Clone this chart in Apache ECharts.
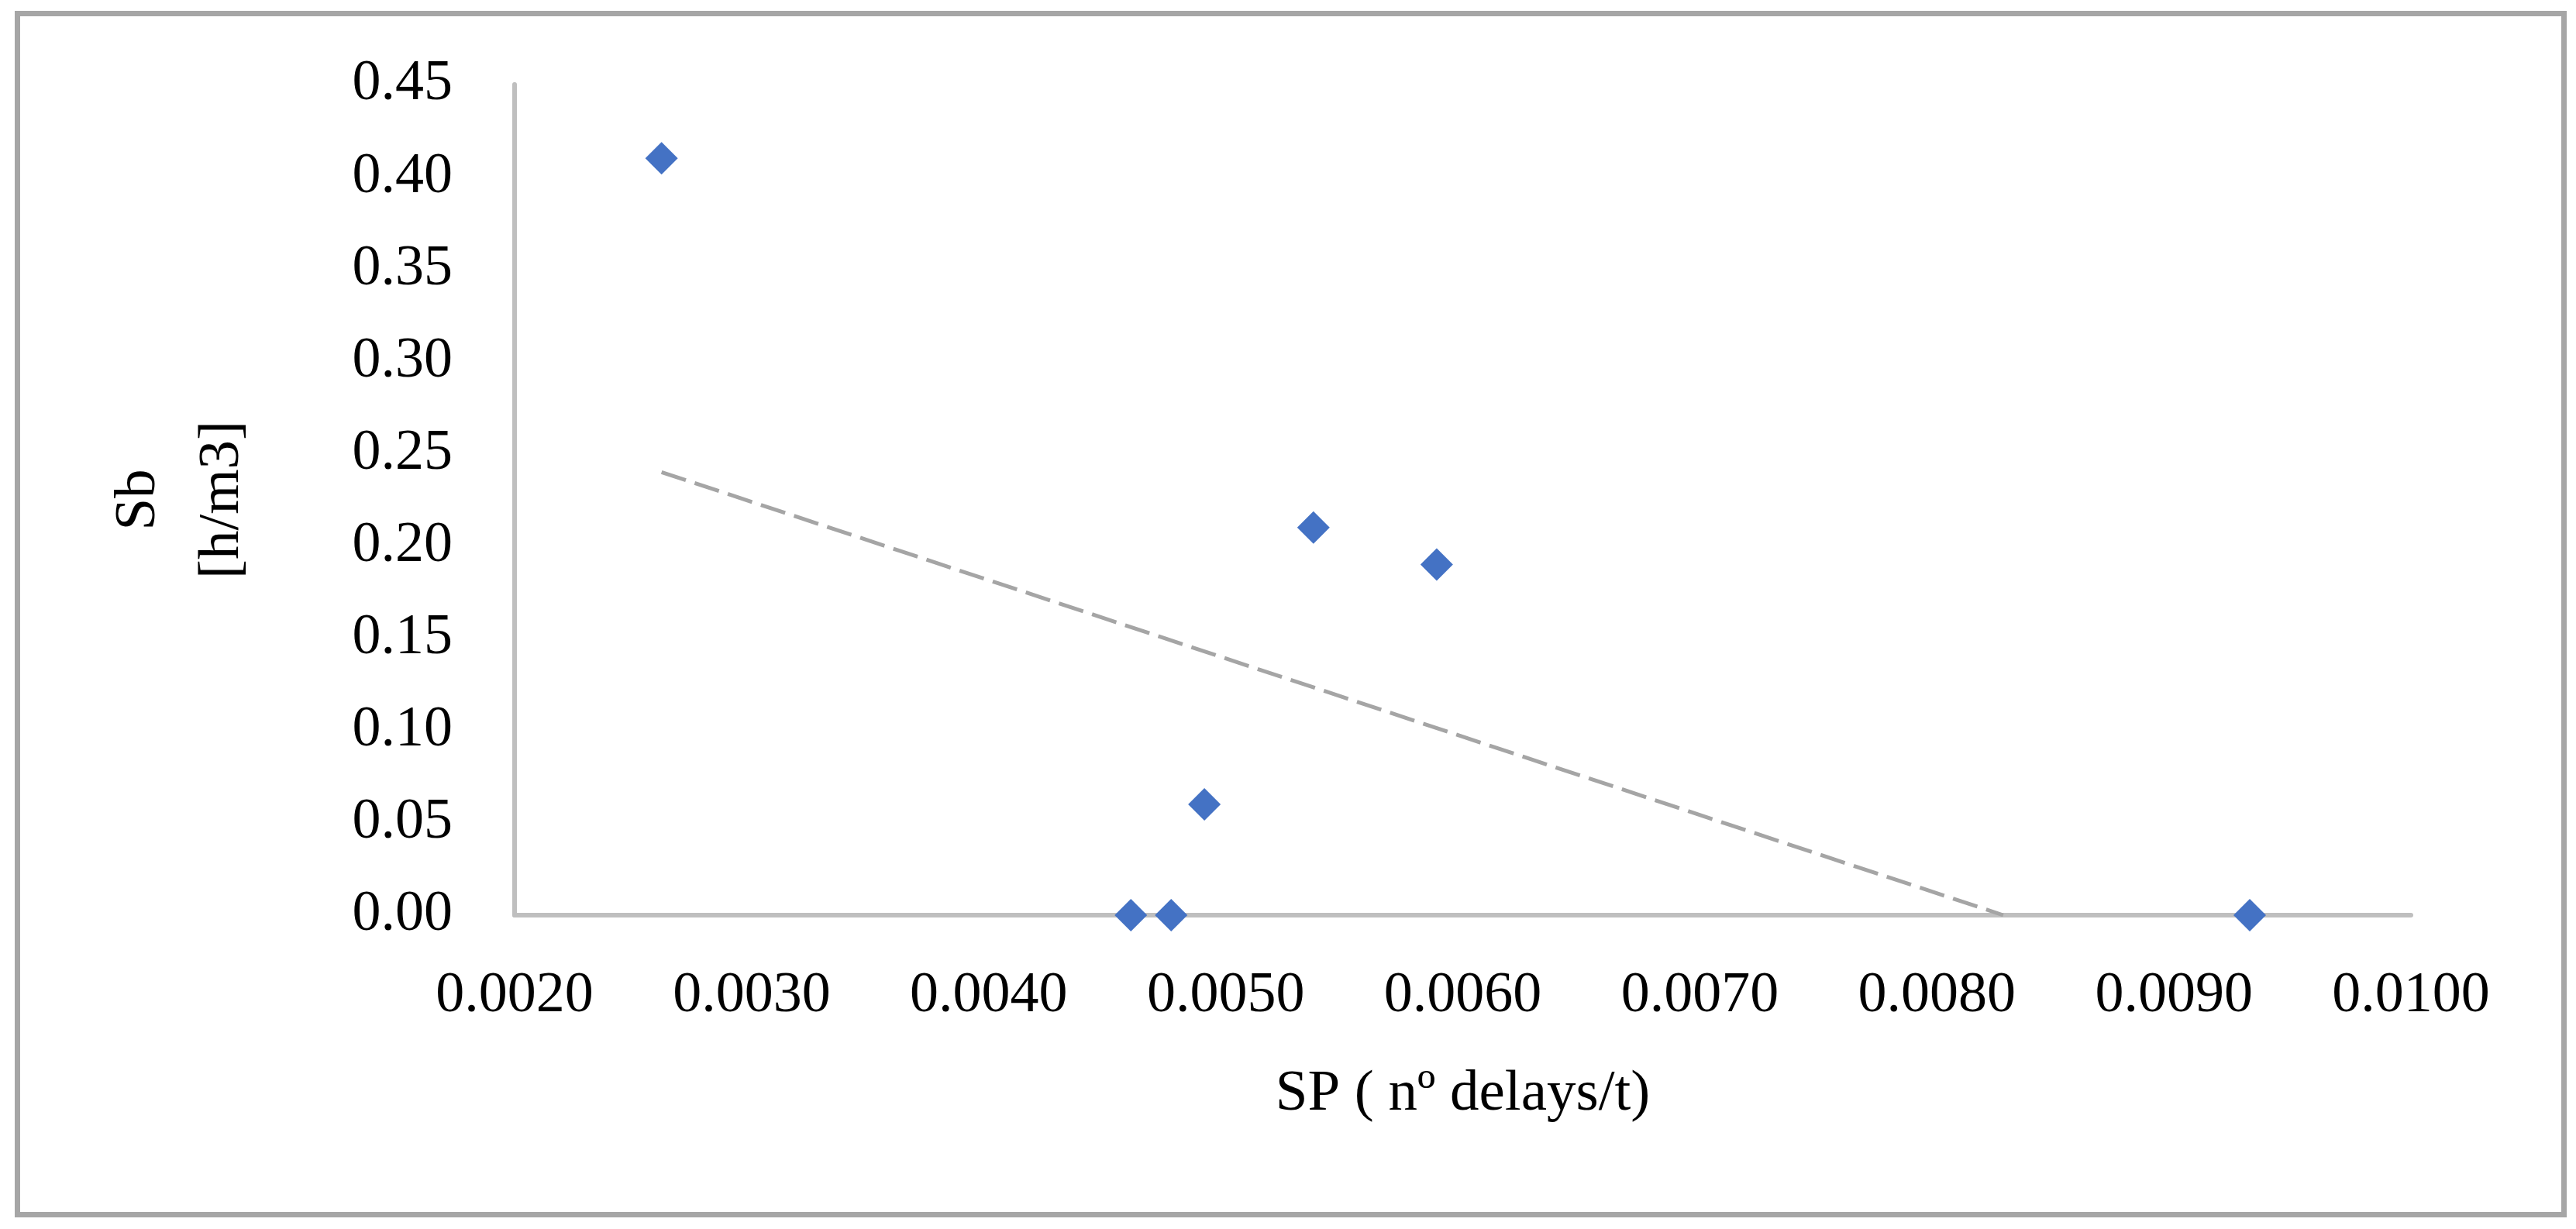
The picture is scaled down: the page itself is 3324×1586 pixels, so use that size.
<!DOCTYPE html>
<html>
<head>
<meta charset="utf-8">
<script src="https://cdn.jsdelivr.net/npm/echarts@6/dist/echarts.min.js"></script>
<style>
  html, body { margin: 0; padding: 0; background: #ffffff; }
  #chart { width: 3324px; height: 1586px; }
</style>
</head>
<body>
<div id="chart"></div>
<script>
// Data
const spValues = [0.00262, 0.00460, 0.00477, 0.00491, 0.00537, 0.00589, 0.00932];
const sbValues = [0.41, 0.00, 0.00, 0.06, 0.21, 0.19, 0.00];
// Linear trend line end points (as drawn, clipped at the x axis)
const trendX = [0.00262, 0.00828];
const trendY = [0.24, 0.00];
const xTicks = { min: 0.002, max: 0.010, step: 0.001 };
const yTicks = { min: 0, max: 0.45, step: 0.05 };
const xTitle = 'SP ( nº delays/t)';
const yTitle = 'Sb\n[h/m3]';

const scatterData = spValues.map((x, i) => [x, sbValues[i]]);
const trendData = trendX.map((x, i) => [x, trendY[i]]);

const FONT = '"Liberation Serif", "Times New Roman", serif';
const chart = echarts.init(document.getElementById('chart'), null, { renderer: 'canvas' });
chart.setOption({
  backgroundColor: '#ffffff',
  animation: false,
  graphic: [{
    type: 'rect',
    shape: { x: 22.5, y: 17.5, width: 3286, height: 1550 },
    style: { fill: 'none', stroke: '#a6a6a6', lineWidth: 7 },
    silent: true,
    z: 100
  }],
  grid: { left: 664, right: 213, top: 109, bottom: 405, containLabel: false },
  xAxis: {
    type: 'value',
    min: xTicks.min, max: xTicks.max, interval: xTicks.step,
    name: xTitle,
    nameLocation: 'middle',
    nameGap: 194,
    nameTextStyle: { fontFamily: FONT, fontSize: 75, color: '#000', lineHeight: 75 },
    axisLine: { show: true, onZero: false, lineStyle: { color: '#bfbfbf', width: 6 } },
    axisTick: { show: false },
    splitLine: { show: false },
    axisLabel: {
      fontFamily: FONT, fontSize: 74, color: '#000', margin: 68, lineHeight: 74,
      formatter: v => v.toFixed(4)
    }
  },
  yAxis: {
    type: 'value',
    min: yTicks.min, max: yTicks.max, interval: yTicks.step,
    name: yTitle,
    nameLocation: 'middle',
    nameRotate: 90,
    nameGap: 323,
    nameTextStyle: { fontFamily: FONT, fontSize: 75, color: '#000', lineHeight: 108, align: 'center' },
    axisLine: { show: true, lineStyle: { color: '#bfbfbf', width: 6 } },
    axisTick: { show: false },
    splitLine: { show: false },
    axisLabel: {
      fontFamily: FONT, fontSize: 74, color: '#000', margin: 80,
      formatter: v => v.toFixed(2)
    }
  },
  series: [
    {
      type: 'line',
      data: trendData,
      symbol: 'none',
      lineStyle: { color: '#a5a5a5', width: 5, type: [33, 12], cap: 'butt' },
      z: 2,
      silent: true
    },
    {
      type: 'scatter',
      data: scatterData,
      symbol: 'diamond',
      symbolSize: [42, 42],
      itemStyle: { color: '#4472c4', opacity: 1 },
      z: 3
    }
  ]
});
</script>
</body>
</html>
